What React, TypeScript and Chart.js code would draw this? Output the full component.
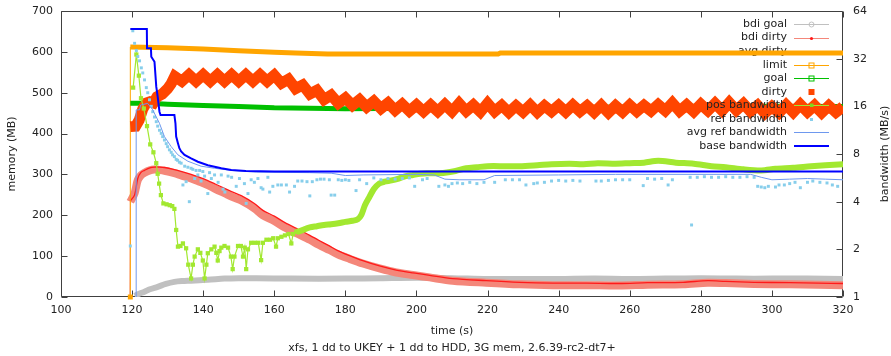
import { useEffect, useRef } from 'react';
import { Chart, registerables } from 'chart.js';

Chart.register(...registerables);

type P = [number, number];

// axis ticks
const timeTicks = [100, 120, 140, 160, 180, 200, 220, 240, 260, 280, 300, 320];
const memTicks = [0, 100, 200, 300, 400, 500, 600, 700];
const bwTicks = [1, 2, 4, 8, 16, 32, 64];

const keyLabels = [
  'bdi goal', 'bdi dirty', 'avg dirty', 'limit', 'goal', 'dirty',
  'pos bandwidth', 'ref bandwidth', 'avg ref bandwidth', 'base bandwidth',
];

const titleText = 'xfs, 1 dd to UKEY + 1 dd to HDD, 3G mem, 2.6.39-rc2-dt7+';

// memory series (MB), [time s, value]
const bdiGoal: P[] = [
  [120.7, 3], [122, 8], [123.5, 13], [125, 19], [127.2, 25], [129.5, 32], [131.9, 37], [134, 39],
  [136.6, 40], [141.3, 42], [146, 45], [150, 46], [155, 46], [165, 45], [180, 45], [190, 46],
  [200, 47], [210, 46], [220, 44], [230, 44], [240, 44], [250, 45], [260, 44], [270, 45],
  [280, 46], [290, 45], [300, 45], [310, 45], [320, 44],
];

const bdiDirtyLead: P[] = [[119.4, 0], [119.5, 233]];
const bdiDirty: P[] = [
  [119.5, 233], [120.7, 254], [121.6, 286], [122.5, 298], [123.5, 304], [125, 310], [126.3, 312],
  [127.5, 311], [129.1, 309], [131.9, 303], [134, 297], [136.6, 290], [139, 282], [141.3, 274],
  [143.5, 264], [146, 254], [148.5, 244], [150.7, 236], [154.4, 217], [156.8, 200], [160, 186],
  [163, 170], [166.2, 156], [170, 140], [172.5, 128], [175.5, 115], [178, 104], [181, 94],
  [184.9, 82], [189.6, 70], [194.3, 60], [199, 54], [203.7, 48], [210.2, 40], [219.6, 35],
  [229, 31], [238.4, 29], [247.8, 29], [257, 28], [265, 30], [275, 31], [282, 35], [287, 34],
  [295, 32], [305, 31], [313, 30], [320, 29],
];
const bdiDirtyDots: P[] = [
  [119.5, 235], [120.7, 250], [121.6, 290], [122.5, 305], [123.5, 310], [125, 316], [126.3, 318],
  [127.5, 318], [129.1, 317], [131.9, 312], [134, 307], [136.6, 300], [139, 293], [141.3, 285],
  [143.5, 276], [146, 266], [148.5, 256], [150.7, 248], [154.4, 229], [156.8, 212], [160, 198],
  [163, 182], [166.2, 168], [170, 151], [172.5, 139], [175.5, 125], [178, 113], [181, 102],
  [184.9, 89], [189.6, 76], [194.3, 66], [199, 59], [203.7, 53], [210.2, 45], [219.6, 40],
  [229, 36], [238.4, 34], [247.8, 34], [257, 33], [265, 35], [275, 36], [282, 40], [287, 38],
  [295, 36], [305, 35], [313, 34], [320, 33],
];

const limitLead: P[] = [[119.5, 0], [119.5, 612]];
const limit: P[] = [
  [119.5, 612], [130, 610], [140, 607], [150, 603], [160, 599], [166, 597], [175, 595],
  [200, 595], [223, 595], [223.6, 597.5], [320, 597.5],
];

const goal: P[] = [
  [119.5, 474], [125, 474], [130, 472], [140, 469], [150, 466], [160, 463], [170, 462],
  [180, 461], [200, 462], [220, 463], [240, 464], [260, 465], [280, 467], [300, 467], [320, 466],
];

const dirty: P[] = [
  [119.5, 417], [121, 418], [122, 433], [123, 460], [124, 475], [125, 478], [126, 475], [127, 490],
  [128.5, 497], [130, 510], [131, 522], [132, 540], [134, 528], [136, 544], [138, 528], [140, 544],
  [142, 528], [144, 544], [146, 528], [148, 544], [150, 528], [152, 544], [154, 528], [156, 544],
  [158, 528], [160, 543], [162, 523], [164, 533], [166, 510], [168, 519], [170, 497], [172, 506],
  [174, 483], [176, 494], [178, 474], [180, 487], [182, 469], [184, 483], [186, 465], [188, 479],
  [190, 461], [192, 475], [194, 457], [196, 472], [198, 455], [200, 470], [202, 454], [204, 470],
  [206, 454], [208, 471], [210, 454], [212, 474], [214, 455], [216, 470], [218, 453], [220, 474],
  [222, 454], [224, 469], [226, 452], [228, 468], [230, 453], [232, 470], [234, 452], [236, 468],
  [238, 454], [240, 469], [242, 453], [244, 470], [246, 454], [248, 468], [250, 452], [252, 469],
  [254, 451], [256, 468], [258, 453], [260, 470], [262, 454], [264, 469], [266, 455], [268, 471],
  [270, 456], [272, 475], [274, 455], [276, 470], [278, 454], [280, 472], [282, 456], [284, 474],
  [286, 456], [288, 476], [290, 457], [292, 473], [294, 454], [296, 469], [298, 450], [300, 466],
  [302, 451], [304, 470], [306, 452], [308, 471], [310, 453], [312, 469], [314, 451], [316, 468],
  [318, 452], [320, 466],
];

// bandwidth series (MB/s), [time s, value]
const posBw: P[] = [
  [120.3, 21], [121.2, 34], [121.9, 25], [122.5, 18], [123.3, 15.5], [124.2, 12], [125.1, 9.2],
  [126.0, 8.2], [126.8, 7.0], [127.2, 6.0], [127.6, 5.2], [128.1, 4.4], [128.8, 3.9], [129.7, 3.85],
  [130.6, 3.8], [131.3, 3.75], [131.9, 3.6], [132.4, 2.65], [132.9, 2.08], [133.6, 2.1], [134.3, 2.18],
  [135.2, 2.03], [135.8, 1.6], [136.6, 1.31], [137.1, 1.6], [137.6, 1.8], [138.5, 2.0], [139.2, 1.9],
  [139.9, 1.7], [140.4, 1.31], [140.9, 1.6], [141.3, 1.89], [142.3, 2.0], [143.2, 2.08], [143.7, 1.9],
  [144.1, 1.7], [144.6, 1.95], [145.1, 2.05], [146.0, 2.1], [147.0, 2.05], [147.8, 1.8], [148.3, 1.5],
  [148.8, 1.8], [149.8, 2.1], [150.6, 2.1], [151.2, 1.8], [151.7, 2.05], [152.1, 1.5], [152.6, 2.0],
  [153.5, 2.2], [154.5, 2.2], [155.5, 2.2], [156.3, 1.71], [156.8, 2.2], [157.8, 2.3], [158.8, 2.3],
  [159.7, 2.35], [160.5, 2.08], [161.0, 2.35], [162.0, 2.4], [163.0, 2.45], [164.0, 2.5], [164.8, 2.18],
  [165.3, 2.5], [166.2, 2.58], [167.0, 2.6], [170, 2.75], [172, 2.8], [174, 2.85], [176, 2.88],
  [178, 2.92], [180, 2.98], [182, 3.03], [183.5, 3.1], [184.5, 3.3], [185.5, 3.8], [186.8, 4.3],
  [188, 4.8], [189.5, 5.2], [191, 5.35], [193, 5.45], [195, 5.6], [197, 5.8], [199, 5.9], [201, 6.0],
  [203, 6.05], [205, 6.05], [208, 6.1], [211, 6.25], [214, 6.5], [217, 6.6], [220, 6.7], [225, 6.7],
  [229, 6.7], [234, 6.8], [238, 6.9], [243, 6.95], [247, 6.9], [251, 7.0], [256, 6.95], [260, 7.0],
  [264, 7.05], [268, 7.25], [273, 7.05], [278, 6.95], [283, 6.7], [287, 6.6], [292, 6.4], [297, 6.3],
  [301, 6.45], [306, 6.55], [311, 6.7], [315, 6.8], [320, 6.9],
];

const refBw: P[] = [
  [119.5, 2.1], [120.2, 48], [120.7, 40], [121.2, 36], [121.6, 33], [122.1, 31], [122.6, 28],
  [123.0, 26], [123.5, 23.5], [124.0, 21], [124.4, 19.5], [124.9, 17.6], [125.4, 16], [125.8, 14.8],
  [126.3, 13.7], [126.8, 12.8], [127.2, 12], [127.7, 11.3], [128.2, 10.8], [128.6, 10.3], [129.1, 9.8],
  [129.6, 9.3], [130.0, 8.9], [130.5, 8.5], [131.0, 8.2], [131.4, 7.9], [131.9, 7.7], [132.4, 7.4],
  [132.8, 7.3], [133.3, 7.1], [133.8, 7.0], [134.3, 5.1], [134.8, 6.7], [135.2, 5.35], [135.7, 6.6],
  [136.1, 4.0], [136.6, 6.5], [137.1, 6.4], [137.6, 5.6], [138.0, 6.3], [138.5, 5.9], [139.0, 6.3],
  [139.4, 5.4], [139.9, 6.2], [140.4, 5.8], [141.3, 4.5], [141.8, 6.1], [142.3, 5.6], [143.2, 5.9],
  [144.2, 5.3], [145.1, 5.9], [145.6, 4.8], [146.1, 4.6], [147.0, 5.8], [148.0, 5.7], [149.3, 5.0],
  [150.2, 5.6], [151.6, 5.2], [152.1, 3.9], [152.6, 4.5], [153.5, 5.5], [154.4, 5.3], [155.4, 5.6],
  [156.3, 4.9], [156.8, 4.8], [158.2, 5.7], [158.7, 4.6], [159.6, 5.0], [161.0, 5.1], [162.0, 5.1],
  [163.4, 5.1], [164.3, 4.6], [165.7, 5.0], [166.6, 5.4], [167.8, 5.4], [169.2, 5.35], [170.0, 4.35],
  [170.7, 5.35], [172.0, 5.5], [173.0, 5.55], [174.0, 5.55], [175.5, 5.5], [176.0, 4.4], [177.0, 4.4],
  [178.0, 5.5], [179.0, 5.45], [180.0, 5.5], [181.0, 5.45], [183.0, 4.7], [184.0, 5.5], [186.0, 5.2],
  [188.0, 5.65], [190.0, 5.5], [192.0, 5.6], [194.0, 5.55], [196.0, 5.6], [198.0, 5.65], [199.5, 5.0],
  [201.7, 5.5], [203.0, 5.6], [206.3, 5.0], [208.0, 5.1], [209.0, 5.0], [210.0, 5.2], [211.5, 5.25],
  [213.0, 5.2], [215.0, 5.3], [217.0, 5.2], [219.0, 5.3], [222.0, 5.3], [225.0, 5.5], [227.0, 5.5],
  [229.0, 5.5], [230.8, 5.1], [233.0, 5.2], [234.0, 5.25], [236.0, 5.3], [238.0, 5.4], [240.0, 5.45],
  [242.0, 5.4], [244.0, 5.45], [246.0, 5.4], [250.5, 5.4], [252.0, 5.4], [254.0, 5.45], [256.0, 5.5],
  [258.0, 5.5], [260.0, 5.5], [263.8, 5.05], [265.0, 5.6], [267.0, 5.55], [269.0, 5.6], [270.8, 5.1],
  [272.0, 5.5], [277.0, 5.7], [277.4, 2.85], [279.0, 5.7], [281.0, 5.75], [283.0, 5.7], [285.0, 5.7],
  [287.0, 5.75], [289.0, 5.7], [291.0, 5.7], [293.0, 5.75], [295.0, 5.7], [296.0, 5.0], [297.0, 4.95],
  [298.0, 4.9], [299.0, 5.0], [301.0, 4.95], [302.0, 5.1], [303.5, 5.1], [305.0, 5.2], [306.5, 5.3],
  [308.0, 4.9], [310.0, 5.3], [311.5, 5.4], [313.5, 5.3], [315.5, 5.25], [317.0, 5.1], [318.5, 5.0],
];

const avgRefBw: P[] = [
  [121.15, 1], [121.15, 15.2], [122.1, 15.2], [122.4, 16.3], [124.4, 16.7], [125.8, 15.2],
  [127.7, 12.5], [129.1, 10.3], [131.0, 8.9], [132.9, 7.9], [135.7, 7.2], [139.4, 6.7], [143.2, 6.5],
  [147.9, 6.3], [155, 6.15], [170, 6.1], [176, 6.05], [180, 5.85], [185, 5.9], [200, 5.95],
  [205, 5.9], [208, 5.55], [212, 5.5], [219, 5.5], [222, 5.85], [240, 5.9], [256, 5.95], [294, 5.95],
  [297, 5.7], [300, 5.5], [305, 5.55], [310, 5.6], [315, 5.55], [320, 5.5],
];

const baseBw: P[] = [
  [119.5, 49.3], [124.15, 49.3], [124.2, 37.2], [125.3, 37.2], [125.4, 32.9], [126.3, 30.6],
  [126.8, 21.3], [127.2, 18.4], [127.7, 14.8], [128, 14.1], [131.9, 14.1], [132.2, 12.5],
  [132.4, 10.3], [132.9, 9.35], [133.3, 8.7], [133.8, 8.3], [134.75, 7.9], [136.6, 7.5],
  [138.5, 7.15], [141.3, 6.8], [145.1, 6.5], [147.9, 6.34], [152, 6.25], [160, 6.2], [320, 6.2],
];

const C = {
  gray: '#c0c0c0',
  salmon: '#f4877a',
  red: '#ff1a1a',
  orange: '#ffa500',
  green: '#00c000',
  orangered: '#ff4500',
  lime: '#a2e830',
  sky: '#87ceeb',
  cornflower: '#6e98ee',
  blue: '#0000ff',
  frame: '#404040',
  text: '#222222',
};

const FONT = '11px "DejaVu Sans"';

const xy = (a: P[]) => a.map(([x, y]) => ({ x, y }));

function line(data: P[], color: string, width: number, axis = 'y', extra: Record<string, unknown> = {}) {
  return {
    data: xy(data),
    borderColor: color,
    backgroundColor: color,
    borderWidth: width,
    yAxisID: axis,
    pointRadius: 0,
    fill: false,
    clip: 0,
    ...extra,
  };
}

function drawKeyEntry(ctx: CanvasRenderingContext2D, i: number) {
  const rowY = 24 + i * 13.55;
  const tx = 787;
  const l = 794;
  const r = 829;
  const m = 811.5;
  ctx.save();
  ctx.font = FONT;
  ctx.fillStyle = C.text;
  ctx.textAlign = 'right';
  ctx.textBaseline = 'middle';
  ctx.fillText(keyLabels[i], tx, rowY);
  const seg = (color: string, w: number) => {
    ctx.strokeStyle = color;
    ctx.lineWidth = w;
    ctx.beginPath();
    ctx.moveTo(l, Math.round(rowY) + (w % 2 ? 0.5 : 0));
    ctx.lineTo(r, Math.round(rowY) + (w % 2 ? 0.5 : 0));
    ctx.stroke();
  };
  const cy = Math.round(rowY) + 0.5;
  switch (i) {
    case 0:
      seg(C.gray, 1);
      ctx.strokeStyle = C.gray;
      ctx.beginPath();
      ctx.arc(m, cy, 2.5, 0, Math.PI * 2);
      ctx.stroke();
      break;
    case 1:
      seg(C.salmon, 1);
      ctx.fillStyle = C.red;
      ctx.beginPath();
      ctx.arc(m, cy, 1.6, 0, Math.PI * 2);
      ctx.fill();
      break;
    case 3:
      seg(C.orange, 1);
      ctx.strokeStyle = C.orange;
      ctx.strokeRect(m - 2.5, cy - 2.5, 5, 5);
      break;
    case 4:
      seg(C.green, 1);
      ctx.strokeStyle = C.green;
      ctx.strokeRect(m - 2.5, cy - 2.5, 5, 5);
      break;
    case 5:
      ctx.fillStyle = C.orangered;
      ctx.fillRect(m - 3, cy - 3.5, 6, 6);
      break;
    case 6:
      seg(C.lime, 1);
      ctx.fillStyle = '#7fd81a';
      ctx.fillRect(m - 1.5, cy - 2, 3.5, 3.5);
      break;
    case 7:
      ctx.fillStyle = C.sky;
      ctx.fillRect(m - 1.5, cy - 1.5, 3, 3);
      break;
    case 8:
      seg(C.cornflower, 1);
      break;
    case 9:
      seg(C.blue, 2);
      break;
    default:
      break;
  }
  ctx.restore();
}

const framePlugin = {
  id: 'gnuFrame',
  beforeDatasetsDraw(chart: Chart) {
    const { ctx, chartArea: a, scales } = chart;
    const x = scales.x;
    const y = scales.y;
    const y2 = scales.y2;
    const L = Math.round(a.left) + 0.5;
    const R = Math.round(a.right) - 0.5;
    const T = Math.round(a.top) + 0.5;
    const B = Math.round(a.bottom) - 0.5;
    const tick = 6;
    ctx.save();
    ctx.strokeStyle = C.frame;
    ctx.lineWidth = 1;
    ctx.beginPath();
    ctx.rect(L, T, R - L, B - T);
    for (const v of timeTicks) {
      const px = Math.round(x.getPixelForValue(v)) + 0.5;
      ctx.moveTo(px, B);
      ctx.lineTo(px, B - tick);
      ctx.moveTo(px, T);
      ctx.lineTo(px, T + tick);
    }
    for (const v of memTicks) {
      const py = Math.round(y.getPixelForValue(v)) + 0.5;
      ctx.moveTo(L, py);
      ctx.lineTo(L + tick, py);
    }
    for (const v of bwTicks) {
      const py = Math.round(y2.getPixelForValue(v)) + 0.5;
      ctx.moveTo(R, py);
      ctx.lineTo(R - tick, py);
    }
    ctx.stroke();

    ctx.font = FONT;
    ctx.fillStyle = C.text;
    ctx.textBaseline = 'middle';
    ctx.textAlign = 'center';
    for (const v of timeTicks) {
      ctx.fillText(String(v), x.getPixelForValue(v), a.bottom + 13.5);
    }
    ctx.textAlign = 'right';
    for (const v of memTicks) {
      ctx.fillText(String(v), a.left - 8, y.getPixelForValue(v));
    }
    ctx.textAlign = 'left';
    for (const v of bwTicks) {
      ctx.fillText(String(v), a.right + 10, y2.getPixelForValue(v));
    }

    const midX = (a.left + a.right) / 2;
    const midY = (a.top + a.bottom) / 2;
    ctx.textAlign = 'center';
    ctx.fillText('time (s)', midX, 331);
    ctx.fillText(titleText, midX, 348);

    ctx.save();
    ctx.translate(12, midY);
    ctx.rotate(-Math.PI / 2);
    ctx.fillText('memory (MB)', 0, 0);
    ctx.restore();
    ctx.save();
    ctx.translate(885, midY);
    ctx.rotate(-Math.PI / 2);
    ctx.fillText('bandwidth (MB/s)', 0, 0);
    ctx.restore();
    ctx.restore();

    // key entries plotted before the limit series
    drawKeyEntry(ctx, 2);
  },
  afterDatasetsDraw(chart: Chart) {
    const { ctx } = chart;
    for (let i = 0; i < keyLabels.length; i++) {
      if (i !== 2) drawKeyEntry(ctx, i);
    }
  },
};

export default function App() {
  const ref = useRef<HTMLCanvasElement | null>(null);

  useEffect(() => {
    if (!ref.current) return;
    const early = posBw.filter(([t]) => t <= 167);
    const late = posBw.filter(([t]) => t >= 166.2);

    const sets: Record<string, unknown>[] = [
      line(bdiGoal, C.gray, 6, 'y', { tension: 0.3 }),
      line(bdiDirtyLead, C.salmon, 1, 'y', { clip: 4 }),
      line(bdiDirty, C.salmon, 8, 'y', { tension: 0.3 }),
      line(bdiDirtyDots, C.red, 1.3, 'y', { tension: 0.3 }),
      line(limitLead, C.orange, 1, 'y', {
        clip: 4,
        pointStyle: 'rect',
        pointRadius: (c: { dataIndex: number }) => (c.dataIndex === 0 ? 3.5 : 0),
        pointBorderWidth: 0,
      }),
      line(limit, C.orange, 5),
      line(goal, C.green, 5),
      // wide zigzag stroke for the oscillating dirty pages
      line(dirty, C.orangered, 11, 'y', { tension: 0, borderJoinStyle: 'miter' }),
      line(early, C.lime, 1.2, 'y2', {
        pointStyle: 'rect',
        pointRadius: 3,
        pointBorderWidth: 0,
        pointBackgroundColor: C.lime,
      }),
      line(late, C.lime, 6, 'y2', { tension: 0.3 }),
      line(refBw, C.sky, 0, 'y2', {
        showLine: false,
        pointStyle: 'rect',
        pointRadius: 2.1,
        pointBorderWidth: 0,
        pointBackgroundColor: C.sky,
      }),
      line(avgRefBw, C.cornflower, 1, 'y2'),
      line(baseBw, C.blue, 2, 'y2'),
    ];
    const n = sets.length;
    const datasets = sets.map((d, i) => ({ ...d, order: n - i }));

    const chart = new Chart(ref.current, {
      type: 'line',
      data: { datasets: datasets as any },
      options: {
        animation: false,
        responsive: false,
        devicePixelRatio: 1,
        events: [],
        parsing: false,
        layout: { padding: { left: 61, right: 48, top: 11, bottom: 59 } },
        plugins: {
          legend: { display: false },
          tooltip: { enabled: false },
          title: { display: false },
        },
        scales: {
          x: { type: 'linear', min: 100, max: 320, display: false },
          y: { type: 'linear', min: 0, max: 700, display: false },
          y2: { type: 'logarithmic', min: 1, max: 64, display: false, position: 'right' },
        },
      },
      plugins: [framePlugin as any],
    });
    return () => chart.destroy();
  }, []);

  return (
    <div style={{ position: 'fixed', left: 0, top: 0, width: 891, height: 356, background: '#fff' }}>
      <canvas ref={ref} width={891} height={356} />
    </div>
  );
}
